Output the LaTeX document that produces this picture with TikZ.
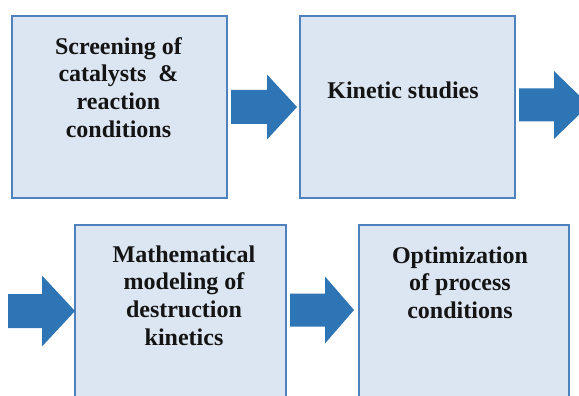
\documentclass[tikz,border=0pt]{standalone}
\usepackage{fontspec}
\setmainfont{Liberation Serif}
\usetikzlibrary{calc}
\definecolor{boxfill}{HTML}{DCE6F2}
\definecolor{boxline}{HTML}{4F81BD}
\definecolor{arrowfill}{HTML}{2E75B6}
\definecolor{txt}{HTML}{141414}
\tikzset{
  box/.style={draw=boxline, line width=2pt, fill=boxfill, rectangle, inner sep=0pt, anchor=north west},
  lbl/.style={align=center, inner sep=0pt, anchor=base, text=txt, font=\fontsize{24}{27.8}\selectfont\bfseries},
  blockarrow/.style={fill=arrowfill, draw=none}
}
\begin{document}
\begin{tikzpicture}[x=1pt,y=-1pt]
\useasboundingbox (0,0) rectangle (579,396);
\clip (0,0) rectangle (579,396);
% boxes
\node[box, minimum width=215pt, minimum height=182pt] (b1) at (11,15) {};
\node[box, minimum width=215pt, minimum height=182pt] (b2) at (299,15) {};
\node[box, minimum width=211pt, minimum height=190pt] (b3) at (74,224) {};
\node[box, minimum width=210pt, minimum height=190pt] (b4) at (358,224) {};
% labels (base anchor = baseline of last line)
\node[lbl] (t1) at (118.5,137.4) {Screening of\\catalysts\ \ \&\\reaction\\conditions};
\node[lbl] (t2) at (403,99) {Kinetic studies};
\node[lbl] (t3) at (184,345.4) {Mathematical\\modeling of\\destruction\\kinetics};
\node[lbl] (t4) at (460,318.6) {Optimization\\of process\\conditions};
% arrow b1 -> b2
\coordinate (a1s) at ($(b1.east)+(3,0)$);
\coordinate (a1t) at ($(b2.west)+(-2,0)$);
\fill[blockarrow] ($(a1s)+(0,-17)$) -- ($(a1s)+(36,-17)$) -- ($(a1s)+(36,-32.5)$) -- (a1t)
  -- ($(a1s)+(36,32.5)$) -- ($(a1s)+(36,17)$) -- ($(a1s)+(0,17)$) -- cycle;
% arrow leaving b2 (cut off at right)
\coordinate (a2s) at ($(b2.east)+(3,-2)$);
\fill[blockarrow] ($(a2s)+(0,-16.5)$) -- ($(a2s)+(35,-16.5)$) -- ($(a2s)+(35,-34)$) -- ($(a2s)+(70,0)$)
  -- ($(a2s)+(35,34)$) -- ($(a2s)+(35,16.5)$) -- ($(a2s)+(0,16.5)$) -- cycle;
% arrow entering b3
\coordinate (a3t) at ($(b3.north west)+(1,87)$);
\fill[blockarrow] ($(a3t)+(-67,-17)$) -- ($(a3t)+(-33,-17)$) -- ($(a3t)+(-33,-35.5)$) -- (a3t)
  -- ($(a3t)+(-33,35.5)$) -- ($(a3t)+(-33,17)$) -- ($(a3t)+(-67,17)$) -- cycle;
% arrow b3 -> b4
\coordinate (a4s) at ($(b3.north east)+(3,86)$);
\coordinate (a4t) at ($(b4.north west)+(-4,86)$);
\fill[blockarrow] ($(a4s)+(0,-16.5)$) -- ($(a4s)+(35,-16.5)$) -- ($(a4s)+(35,-33.5)$) -- (a4t)
  -- ($(a4s)+(35,33.5)$) -- ($(a4s)+(35,16.5)$) -- ($(a4s)+(0,16.5)$) -- cycle;
\end{tikzpicture}
\end{document}
